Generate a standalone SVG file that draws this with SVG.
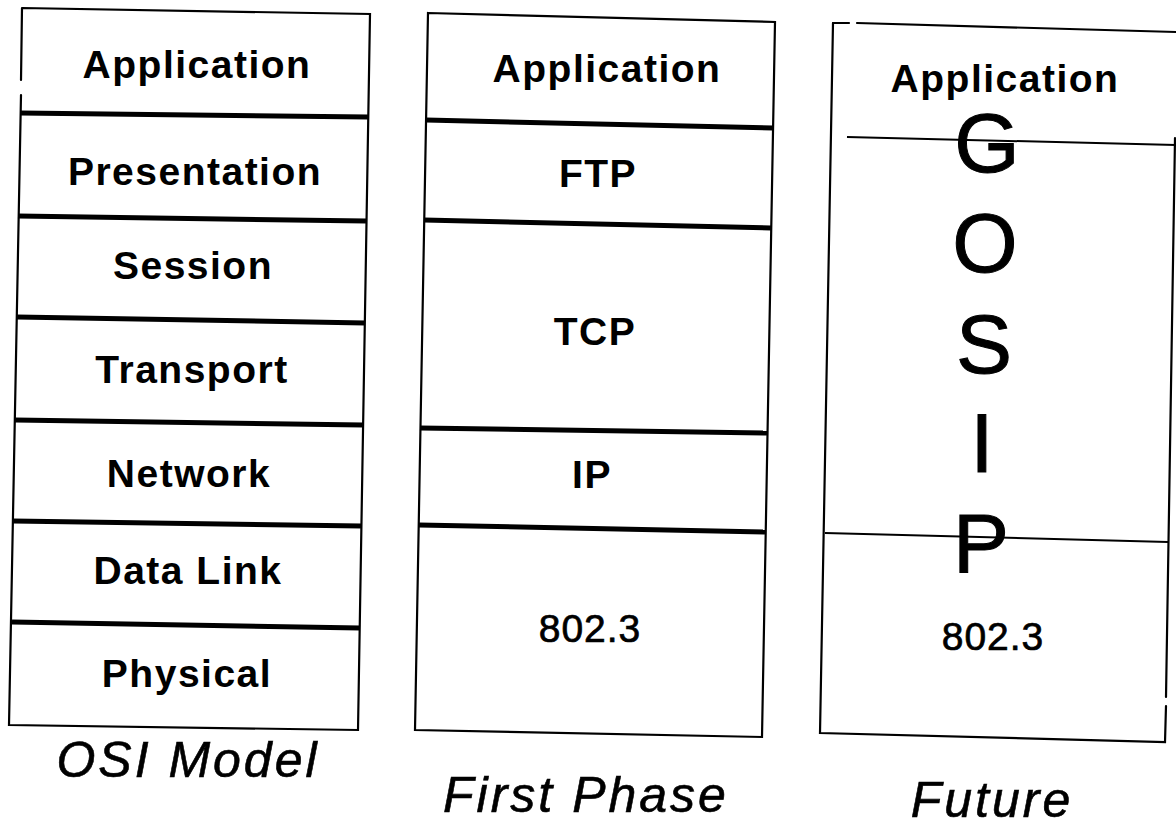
<svg xmlns="http://www.w3.org/2000/svg" width="1176" height="828" viewBox="0 0 1176 828">
<style>
  .edge{stroke:#000;stroke-width:2.2;fill:none;stroke-linecap:round}
  .thick{stroke:#000;stroke-width:5;fill:none}
  .thin{stroke:#000;stroke-width:2;fill:none}
  .lbl{font-family:"Liberation Sans",Arial,sans-serif;font-weight:bold;font-size:39px;letter-spacing:1.5px;text-anchor:middle;fill:#000}
  .num{font-family:"Liberation Sans",Arial,sans-serif;font-size:39px;letter-spacing:1px;text-anchor:middle;fill:#000;stroke:#000;stroke-width:0.7}
  .big{font-family:"Liberation Sans",Arial,sans-serif;font-size:84px;text-anchor:middle;fill:#000;stroke:#000;stroke-width:1}
  .cap{font-family:"Liberation Sans",Arial,sans-serif;font-style:italic;font-size:50px;letter-spacing:3px;text-anchor:middle;fill:#000;stroke:#000;stroke-width:0.6}
</style>
<rect width="1176" height="828" fill="#fff"/>

<g id="osi">
  <path class="edge" d="M22,8 L370,14 L358,730 L9,725 L21,95 M21,80 L22,8"/>
  <g id="osi-dividers">
    <line class="thick" x1="20" y1="113" x2="368" y2="117"/>
    <line class="thick" x1="18" y1="216" x2="366" y2="221"/>
    <line class="thick" x1="17" y1="317" x2="365" y2="323"/>
    <line class="thick" x1="15" y1="420" x2="363" y2="425"/>
    <line class="thick" x1="13" y1="521" x2="361" y2="526"/>
    <line class="thick" x1="12" y1="622" x2="360" y2="628"/>
  </g>
  <g id="osi-application"><text class="lbl" x="197" y="78">Application</text></g>
  <g id="osi-presentation"><text class="lbl" x="195" y="185">Presentation</text></g>
  <g id="osi-session"><text class="lbl" x="193" y="279">Session</text></g>
  <g id="osi-transport"><text class="lbl" x="192" y="383">Transport</text></g>
  <g id="osi-network"><text class="lbl" x="189" y="487">Network</text></g>
  <g id="osi-datalink"><text class="lbl" x="188" y="584">Data Link</text></g>
  <g id="osi-physical"><text class="lbl" x="187" y="687">Physical</text></g>
  <text class="cap" x="188" y="777">OSI Model</text>
</g>

<g id="first-phase">
  <path class="edge" d="M428,13 L775,22 L762,737 L415,730 Z"/>
  <g id="fp-dividers">
    <line class="thick" x1="426" y1="120" x2="773" y2="128"/>
    <line class="thick" x1="424" y1="220" x2="771" y2="228"/>
    <line class="thick" x1="420" y1="428" x2="767" y2="433"/>
    <line class="thick" x1="419" y1="525" x2="765" y2="532"/>
  </g>
  <g id="fp-application"><text class="lbl" x="607" y="82">Application</text></g>
  <g id="fp-ftp"><text class="lbl" x="598" y="187">FTP</text></g>
  <g id="fp-tcp"><text class="lbl" x="595" y="345">TCP</text></g>
  <g id="fp-ip"><text class="lbl" x="592" y="488">IP</text></g>
  <g id="fp-8023"><text class="num" x="590" y="642">802.3</text></g>
  <text class="cap" x="586" y="812">First Phase</text>
</g>

<g id="future">
  <path class="edge" d="M833,23 L849,23 M857,23 L1176,32"/>
  <path class="edge" d="M833,23 L820,733 L1165,742 L1166,706 M1166,697 L1175,138"/>
  <line class="thin" x1="847" y1="137" x2="1176" y2="145"/>
  <line class="thin" x1="825" y1="533" x2="1168" y2="542"/>
  <g id="future-application"><text class="lbl" x="1005" y="92">Application</text></g>
  <g id="future-gosip">
    <text class="big" x="987" y="172">G</text>
    <text class="big" x="985" y="272">O</text>
    <text class="big" x="984" y="373">S</text>
    <text class="big" x="982" y="472">I</text>
    <text class="big" x="981" y="572">P</text>
  </g>
  <g id="future-8023"><text class="num" x="993" y="650">802.3</text></g>
  <text class="cap" x="992" y="817">Future</text>
</g>
</svg>
